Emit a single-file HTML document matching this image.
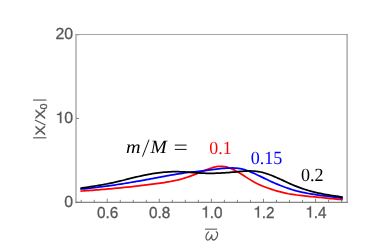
<!DOCTYPE html>
<html><head><meta charset="utf-8"><title>plot</title>
<style>
html,body{margin:0;padding:0;background:#fff;}
body{width:374px;height:249px;overflow:hidden;}
svg{display:block;}
text{font-family:"Liberation Sans",sans-serif;text-rendering:geometricPrecision;}
.ser{font-family:"Liberation Serif",serif;}
</style></head><body>
<svg width="374" height="249" viewBox="0 0 374 249" style="will-change:transform;transform:translateZ(0)">
<g fill="none" stroke-linejoin="round" stroke-linecap="butt" stroke-width="1.75">
<path d="M80.4,191.13 L82.4,191.00 L84.4,190.86 L86.4,190.71 L88.4,190.57 L90.4,190.42 L92.4,190.27 L94.4,190.12 L96.4,189.96 L98.4,189.80 L100.4,189.64 L102.4,189.47 L104.4,189.31 L106.4,189.13 L108.4,188.96 L110.4,188.78 L112.4,188.60 L114.4,188.42 L116.4,188.23 L118.4,188.04 L120.4,187.84 L122.4,187.64 L124.4,187.44 L126.4,187.24 L128.4,187.03 L130.4,186.81 L132.4,186.60 L134.4,186.37 L136.4,186.15 L138.4,185.92 L140.4,185.69 L142.4,185.45 L144.4,185.21 L146.4,184.96 L148.4,184.71 L150.4,184.46 L152.4,184.20 L154.4,183.94 L156.4,183.67 L158.4,183.40 L160.4,183.12 L162.4,182.83 L164.4,182.52 L166.4,182.20 L168.4,181.86 L170.4,181.50 L172.4,181.12 L174.4,180.71 L176.4,180.26 L178.4,179.79 L180.4,179.28 L182.4,178.73 L184.4,178.14 L186.4,177.51 L188.4,176.84 L190.4,176.13 L192.4,175.38 L194.4,174.61 L196.4,173.82 L198.4,173.02 L200.4,172.22 L202.4,171.41 L204.4,170.61 L206.4,169.83 L208.4,169.07 L210.4,168.35 L212.4,167.71 L214.4,167.17 L216.4,166.74 L218.4,166.45 L220.4,166.32 L222.4,166.35 L224.4,166.55 L226.4,166.93 L228.4,167.51 L230.4,168.24 L232.4,169.12 L234.4,170.12 L236.4,171.21 L238.4,172.36 L240.4,173.58 L242.4,174.83 L244.4,176.10 L246.4,177.37 L248.4,178.63 L250.4,179.87 L252.4,181.06 L254.4,182.19 L256.4,183.25 L258.4,184.22 L260.4,185.11 L262.4,185.94 L264.4,186.73 L266.4,187.48 L268.4,188.20 L270.4,188.90 L272.4,189.57 L274.4,190.21 L276.4,190.82 L278.4,191.40 L280.4,191.94 L282.4,192.44 L284.4,192.91 L286.4,193.34 L288.4,193.74 L290.4,194.09 L292.4,194.42 L294.4,194.72 L296.4,195.00 L298.4,195.25 L300.4,195.49 L302.4,195.72 L304.4,195.93 L306.4,196.14 L308.4,196.33 L310.4,196.52 L312.4,196.71 L314.4,196.90 L316.4,197.09 L318.4,197.28 L320.4,197.48 L322.4,197.69 L324.4,197.90 L326.4,198.12 L328.4,198.33 L330.4,198.54 L332.4,198.75 L334.4,198.94 L336.4,199.12 L338.4,199.29 L340.4,199.44 L342.4,199.57 L342.8,199.59" stroke="#ff0000"/>
<path d="M80.4,189.14 L82.4,188.96 L84.4,188.77 L86.4,188.57 L88.4,188.37 L90.4,188.16 L92.4,187.94 L94.4,187.71 L96.4,187.47 L98.4,187.23 L100.4,186.98 L102.4,186.72 L104.4,186.46 L106.4,186.19 L108.4,185.91 L110.4,185.63 L112.4,185.34 L114.4,185.05 L116.4,184.75 L118.4,184.44 L120.4,184.13 L122.4,183.81 L124.4,183.49 L126.4,183.17 L128.4,182.84 L130.4,182.50 L132.4,182.16 L134.4,181.82 L136.4,181.47 L138.4,181.12 L140.4,180.77 L142.4,180.41 L144.4,180.05 L146.4,179.69 L148.4,179.32 L150.4,178.95 L152.4,178.58 L154.4,178.21 L156.4,177.83 L158.4,177.46 L160.4,177.08 L162.4,176.70 L164.4,176.33 L166.4,175.96 L168.4,175.59 L170.4,175.23 L172.4,174.88 L174.4,174.53 L176.4,174.20 L178.4,173.87 L180.4,173.56 L182.4,173.26 L184.4,172.98 L186.4,172.71 L188.4,172.45 L190.4,172.21 L192.4,171.98 L194.4,171.75 L196.4,171.53 L198.4,171.31 L200.4,171.08 L202.4,170.85 L204.4,170.61 L206.4,170.35 L208.4,170.08 L210.4,169.81 L212.4,169.53 L214.4,169.27 L216.4,169.02 L218.4,168.79 L220.4,168.59 L222.4,168.42 L224.4,168.27 L226.4,168.16 L228.4,168.07 L230.4,168.01 L232.4,167.99 L234.4,168.01 L236.4,168.12 L238.4,168.35 L240.4,168.70 L242.4,169.16 L244.4,169.70 L246.4,170.34 L248.4,171.05 L250.4,171.83 L252.4,172.66 L254.4,173.55 L256.4,174.47 L258.4,175.42 L260.4,176.39 L262.4,177.36 L264.4,178.34 L266.4,179.30 L268.4,180.25 L270.4,181.18 L272.4,182.09 L274.4,182.97 L276.4,183.83 L278.4,184.67 L280.4,185.47 L282.4,186.26 L284.4,187.01 L286.4,187.73 L288.4,188.42 L290.4,189.08 L292.4,189.71 L294.4,190.30 L296.4,190.86 L298.4,191.37 L300.4,191.86 L302.4,192.31 L304.4,192.73 L306.4,193.12 L308.4,193.49 L310.4,193.84 L312.4,194.17 L314.4,194.48 L316.4,194.77 L318.4,195.05 L320.4,195.33 L322.4,195.59 L324.4,195.85 L326.4,196.10 L328.4,196.35 L330.4,196.61 L332.4,196.87 L334.4,197.13 L336.4,197.40 L338.4,197.69 L340.4,197.99 L342.4,198.30 L342.8,198.37" stroke="#0000ff"/>
<path d="M80.4,188.29 L82.4,187.97 L84.4,187.66 L86.4,187.35 L88.4,187.04 L90.4,186.72 L92.4,186.41 L94.4,186.09 L96.4,185.76 L98.4,185.43 L100.4,185.09 L102.4,184.74 L104.4,184.38 L106.4,184.00 L108.4,183.62 L110.4,183.22 L112.4,182.80 L114.4,182.37 L116.4,181.92 L118.4,181.45 L120.4,180.97 L122.4,180.48 L124.4,179.98 L126.4,179.47 L128.4,178.96 L130.4,178.45 L132.4,177.95 L134.4,177.46 L136.4,176.97 L138.4,176.50 L140.4,176.05 L142.4,175.61 L144.4,175.19 L146.4,174.79 L148.4,174.41 L150.4,174.05 L152.4,173.71 L154.4,173.39 L156.4,173.10 L158.4,172.83 L160.4,172.59 L162.4,172.37 L164.4,172.18 L166.4,172.02 L168.4,171.89 L170.4,171.79 L172.4,171.73 L174.4,171.69 L176.4,171.69 L178.4,171.72 L180.4,171.79 L182.4,171.87 L184.4,171.98 L186.4,172.10 L188.4,172.24 L190.4,172.38 L192.4,172.53 L194.4,172.67 L196.4,172.81 L198.4,172.94 L200.4,173.05 L202.4,173.15 L204.4,173.23 L206.4,173.29 L208.4,173.32 L210.4,173.33 L212.4,173.31 L214.4,173.28 L216.4,173.22 L218.4,173.14 L220.4,173.05 L222.4,172.94 L224.4,172.82 L226.4,172.68 L228.4,172.54 L230.4,172.37 L232.4,172.20 L234.4,172.03 L236.4,171.84 L238.4,171.65 L240.4,171.46 L242.4,171.29 L244.4,171.15 L246.4,171.04 L248.4,170.97 L250.4,170.95 L252.4,171.00 L254.4,171.12 L256.4,171.33 L258.4,171.62 L260.4,172.00 L262.4,172.46 L264.4,172.99 L266.4,173.59 L268.4,174.26 L270.4,174.98 L272.4,175.76 L274.4,176.58 L276.4,177.44 L278.4,178.33 L280.4,179.23 L282.4,180.16 L284.4,181.09 L286.4,182.01 L288.4,182.94 L290.4,183.84 L292.4,184.73 L294.4,185.59 L296.4,186.41 L298.4,187.19 L300.4,187.93 L302.4,188.63 L304.4,189.29 L306.4,189.92 L308.4,190.51 L310.4,191.07 L312.4,191.61 L314.4,192.11 L316.4,192.59 L318.4,193.04 L320.4,193.46 L322.4,193.87 L324.4,194.25 L326.4,194.61 L328.4,194.96 L330.4,195.29 L332.4,195.61 L334.4,195.91 L336.4,196.21 L338.4,196.49 L340.4,196.77 L342.4,197.04 L342.8,197.09" stroke="#000"/>
</g>
<g stroke="#b6b6b6" fill="none" stroke-width="1.7">
<line x1="76.0" y1="34" x2="76.0" y2="202.8"/>
<line x1="347.15" y1="34" x2="347.15" y2="202.8"/>
</g>
<line x1="75.2" y1="34.55" x2="348" y2="34.55" stroke="#a4a4a4" stroke-width="1.1"/>
<line x1="75.2" y1="202.35" x2="348" y2="202.35" stroke="#858585" stroke-width="1.1"/>
<g stroke="#707070" stroke-width="0.85"><line x1="81.20" y1="202.35" x2="81.20" y2="199.85"/><line x1="94.22" y1="202.35" x2="94.22" y2="199.85"/><line x1="107.24" y1="202.35" x2="107.24" y2="198.75"/><line x1="120.26" y1="202.35" x2="120.26" y2="199.85"/><line x1="133.28" y1="202.35" x2="133.28" y2="199.85"/><line x1="146.30" y1="202.35" x2="146.30" y2="199.85"/><line x1="159.32" y1="202.35" x2="159.32" y2="198.75"/><line x1="172.34" y1="202.35" x2="172.34" y2="199.85"/><line x1="185.36" y1="202.35" x2="185.36" y2="199.85"/><line x1="198.38" y1="202.35" x2="198.38" y2="199.85"/><line x1="211.40" y1="202.35" x2="211.40" y2="198.75"/><line x1="224.42" y1="202.35" x2="224.42" y2="199.85"/><line x1="237.44" y1="202.35" x2="237.44" y2="199.85"/><line x1="250.46" y1="202.35" x2="250.46" y2="199.85"/><line x1="263.48" y1="202.35" x2="263.48" y2="198.75"/><line x1="276.50" y1="202.35" x2="276.50" y2="199.85"/><line x1="289.52" y1="202.35" x2="289.52" y2="199.85"/><line x1="302.54" y1="202.35" x2="302.54" y2="199.85"/><line x1="315.56" y1="202.35" x2="315.56" y2="198.75"/><line x1="328.58" y1="202.35" x2="328.58" y2="199.85"/><line x1="341.60" y1="202.35" x2="341.60" y2="199.85"/><line x1="76.0" y1="202.35" x2="79.1" y2="202.35"/><line x1="76.0" y1="118.45" x2="79.1" y2="118.45"/><line x1="76.8" y1="35.15" x2="79.1" y2="35.15" stroke-opacity="0.45"/></g>
<g fill="#575757" stroke="#575757" stroke-width="0.3" font-size="15.3px"><text font-size="15.3px" transform="translate(97.01,217.5) scale(1,1.045)">0.6</text><text font-size="15.3px" transform="translate(149.09,217.5) scale(1,1.045)">0.8</text><path vector-effect="non-scaling-stroke" transform="translate(201.17,217.5) scale(0.01530,0.01599)" d="M285 0V-505H101V-568C215 -571 275 -600 312 -709H373V0Z"/><text font-size="15.3px" transform="translate(209.67,217.5) scale(1,1.045)">.0</text><path vector-effect="non-scaling-stroke" transform="translate(253.25,217.5) scale(0.01530,0.01599)" d="M285 0V-505H101V-568C215 -571 275 -600 312 -709H373V0Z"/><text font-size="15.3px" transform="translate(261.75,217.5) scale(1,1.045)">.2</text><path vector-effect="non-scaling-stroke" transform="translate(305.33,217.5) scale(0.01530,0.01599)" d="M285 0V-505H101V-568C215 -571 275 -600 312 -709H373V0Z"/><text font-size="15.3px" transform="translate(313.83,217.5) scale(1,1.045)">.4</text><text font-size="15.9px" transform="translate(64.26,206.6) scale(1,1.01)">0</text><path vector-effect="non-scaling-stroke" transform="translate(55.42,123.1) scale(0.01590,0.01606)" d="M285 0V-505H101V-568C215 -571 275 -600 312 -709H373V0Z"/><text font-size="15.9px" transform="translate(64.26,123.1) scale(1,1.01)">0</text><text font-size="15.9px" transform="translate(55.42,39.4) scale(1,1.01)">20</text></g>
<g fill="#575757" stroke="#575757" stroke-width="0.3" font-size="13.6px">
<g transform="translate(44.9,0) rotate(-90)">
<text x="-135.5" y="0" textLength="10.2" lengthAdjust="spacingAndGlyphs">X</text>
<text x="-119.3" y="0" textLength="10.2" lengthAdjust="spacingAndGlyphs">X</text>
<text x="-109.4" y="2.4" font-size="9.9px" textLength="6.0" lengthAdjust="spacingAndGlyphs">0</text>
</g>
</g>
<g stroke="#575757" stroke-width="1.15">
<line x1="33.1" y1="137.8" x2="46.4" y2="137.8"/>
<line x1="45.4" y1="124.95" x2="35.0" y2="120.0" stroke-width="1.2"/>
<line x1="33.1" y1="100.05" x2="46.4" y2="100.05"/>
<line x1="205.0" y1="229.15" x2="217.1" y2="229.15" stroke-width="1.05"/>
</g>
<path d="M208.6,231.9 C206.4,234.2 205.6,237.2 206.3,239.0 C207.2,240.8 209.6,240.3 210.8,237.6 C211.4,236.4 211.7,235.6 211.9,235.0 C211.5,236.8 211.5,238.6 212.5,239.6 C214.0,240.8 216.2,239.0 217.2,236.4 C217.9,234.6 217.9,232.4 216.3,231.8" fill="none" stroke="#575757" stroke-width="1.25" stroke-linecap="round" stroke-linejoin="round"/>
<g class="ser" font-size="18.6px">
<text class="ser" x="125.9" y="152.8" font-style="italic" textLength="14.6" lengthAdjust="spacingAndGlyphs">m</text>
<text class="ser" x="150.4" y="152.8" font-style="italic" textLength="16.3" lengthAdjust="spacingAndGlyphs">M</text>
<text class="ser" x="209.3" y="153.7" fill="#ff0000" textLength="22.4" lengthAdjust="spacingAndGlyphs">0.1</text>
<text class="ser" x="250.7" y="164.3" fill="#0000ff" textLength="31.6" lengthAdjust="spacingAndGlyphs">0.15</text>
<text class="ser" x="300.9" y="180.7" fill="#000" textLength="22.6" lengthAdjust="spacingAndGlyphs">0.2</text>
</g>
<g stroke="#000" stroke-width="0.95" fill="none">
<line x1="149.0" y1="139.7" x2="142.5" y2="156.6"/>
<line x1="174.8" y1="145.1" x2="186.6" y2="145.1"/>
<line x1="174.8" y1="149.4" x2="186.6" y2="149.4"/>
</g>
</svg>
</body></html>
